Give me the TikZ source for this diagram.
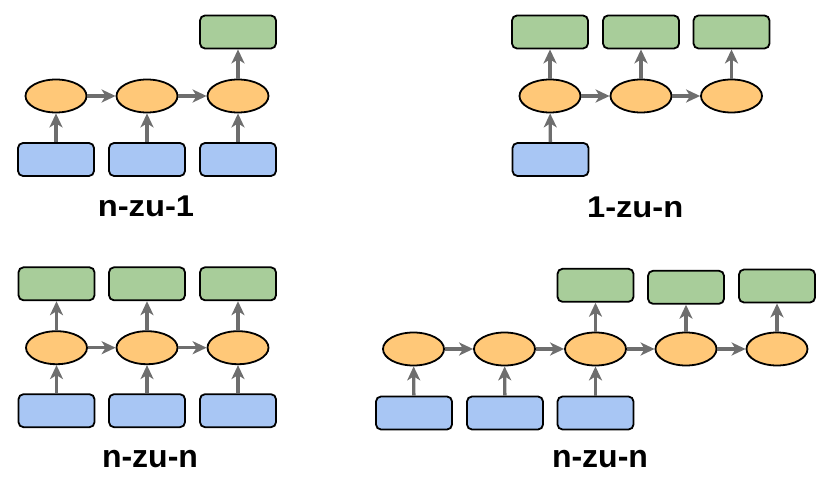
\documentclass[tikz,border=0pt]{standalone}
\usepackage{fontspec}
\usepackage{graphicx}
\setmainfont{Liberation Sans}
\usetikzlibrary{shapes.geometric,arrows.meta}
\definecolor{inblue}{HTML}{A8C6F4}
\definecolor{outgreen}{HTML}{A8CD9A}
\definecolor{hidorange}{HTML}{FFC878}
\definecolor{arrowgray}{HTML}{6E6E6E}
% captions of the upper row are set slightly wider than tall
\newcommand\widecap[1]{\scalebox{1.09}[1]{#1}}
\tikzset{
  inbox/.style={draw=black, line width=1.8pt, fill=inblue, rounded corners=5pt,
    minimum width=76pt, minimum height=33pt, inner sep=0pt},
  outbox/.style={draw=black, line width=1.8pt, fill=outgreen, rounded corners=5pt,
    minimum width=76pt, minimum height=33pt, inner sep=0pt},
  hid/.style={ellipse, draw=black, line width=1.8pt, fill=hidorange,
    minimum width=61pt, minimum height=33pt, inner sep=0pt},
  conn/.style={draw=arrowgray, line width=3.3pt,
    -{Stealth[length=14pt, width=13pt, inset=4pt]}},
  topcap/.style={font=\bfseries\fontsize{30}{34}\selectfont, anchor=base, inner sep=0pt},
  botcap/.style={font=\bfseries\fontsize{32}{36}\selectfont, anchor=base, inner sep=0pt}
}
\begin{document}
\begin{tikzpicture}[x=1pt,y=-1pt]
\useasboundingbox (0,0) rectangle (825,478);

% many to one
\foreach \i/\x in {1/56,2/147,3/238}{
  \node[inbox] (p1in\i) at (\x,159.5) {};
  \node[hid] (p1h\i) at (\x,96) {};
}
\node[outbox] (p1out3) at (238,32) {};
\foreach \i in {1,2,3} \draw[conn] (p1in\i) -- (p1h\i);
\draw[conn] (p1h1) -- (p1h2);
\draw[conn] (p1h2) -- (p1h3);
\draw[conn] (p1h3) -- (p1out3);
\node[topcap] (p1cap) at (146,216.7) {\widecap{n-zu-1}};

% one to many
\foreach \i/\x in {1/550,2/641,3/731.5}{
  \node[hid] (p2h\i) at (\x,96) {};
  \node[outbox] (p2out\i) at (\x,32) {};
  \draw[conn] (p2h\i) -- (p2out\i);
}
\node[inbox] (p2in1) at (550.5,159.5) {};
\draw[conn] (p2in1) -- (p2h1);
\draw[conn] (p2h1) -- (p2h2);
\draw[conn] (p2h2) -- (p2h3);
\node[topcap] (p2cap) at (635.2,217.3) {\widecap{1-zu-n}};

% many to many, aligned
\foreach \i/\x in {1/56.5,2/147,3/238}{
  \node[inbox] (p3in\i) at (\x,410.7) {};
  \node[hid] (p3h\i) at (\x,347.7) {};
  \node[outbox] (p3out\i) at (\x,283.8) {};
  \draw[conn] (p3in\i) -- (p3h\i);
  \draw[conn] (p3h\i) -- (p3out\i);
}
\draw[conn] (p3h1) -- (p3h2);
\draw[conn] (p3h2) -- (p3h3);
\node[botcap] (p3cap) at (150,467.3) {n-zu-n};

% many to many, delayed
\foreach \i/\x in {1/413.5,2/504.5,3/595.5,4/686,5/777}{
  \node[hid] (p4h\i) at (\x,349) {};
}
\foreach \i/\x in {1/414,2/505,3/595.5}{
  \node[inbox] (p4in\i) at (\x,413) {};
  \draw[conn] (p4in\i) -- (p4h\i);
}
\node[outbox] (p4out3) at (595.5,285.3) {};
\node[outbox] (p4out4) at (686,287.3) {};
\node[outbox] (p4out5) at (777,286) {};
\foreach \i in {3,4,5} \draw[conn] (p4h\i) -- (p4out\i);
\foreach \i/\j in {1/2,2/3,3/4,4/5} \draw[conn] (p4h\i) -- (p4h\j);
\node[botcap] (p4cap) at (600,467.3) {n-zu-n};
\end{tikzpicture}
\end{document}
